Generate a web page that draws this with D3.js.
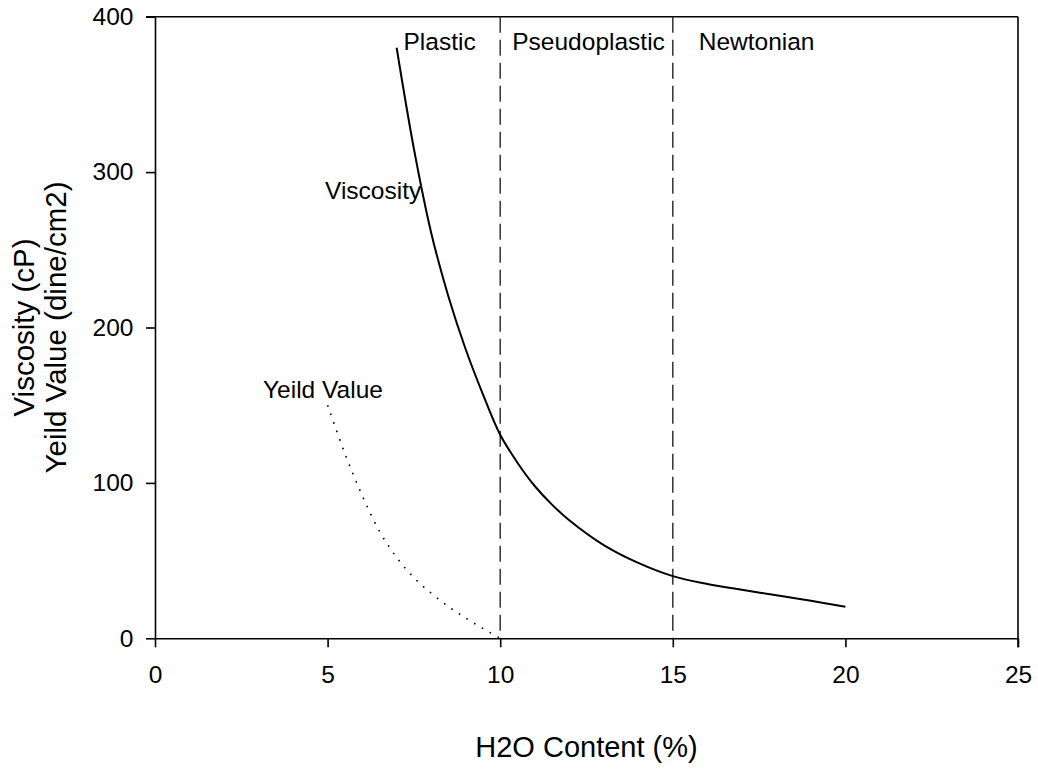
<!DOCTYPE html>
<html>
<head>
<meta charset="utf-8">
<script src="https://cdn.jsdelivr.net/npm/d3@7"></script>
<style>
  html, body { margin: 0; padding: 0; background: #fff; }
  svg text { font-family: "Liberation Sans", Arial, sans-serif; fill: #000; }
</style>
</head>
<body>
<svg id="chart" width="1038" height="770"></svg>
<script>
// Water content (%) and viscosity (cP)
const viscWater = [7, 7.5, 8, 8.5, 9, 9.5, 10, 10.5, 11, 11.5, 12, 13, 14, 15, 16, 17, 18, 19, 20];
const viscosity = [380, 315, 261, 220, 186, 157, 131, 113, 98, 86, 76, 60, 48.5, 40, 35, 31.2, 27.7, 24.1, 20.3];

// Water content (%) and yield value (dine/cm2)
const yieldWater = [5, 5.5, 6, 6.5, 7, 7.5, 8, 8.5, 9, 9.5, 10];
const yieldValue = [150, 119, 92, 69, 52, 39, 29, 20.5, 13, 6.3, 0];

// Flow regime boundaries and their labels
const boundaries = [10, 15];
const regimes = [
  { name: "Plastic", x: 7.2 },
  { name: "Pseudoplastic", x: 10.35 },
  { name: "Newtonian", x: 15.75 }
];

// Axis ticks
const xTicks = [0, 5, 10, 15, 20, 25];
const yTicks = [0, 100, 200, 300, 400];

const svg = d3.select("#chart");
const plotLeft = 155, plotRight = 1018, plotTop = 16.7, plotBottom = 638.3;
const labelSize = 24.5;

const x = d3.scaleLinear().domain([0, 25]).range([plotLeft, plotRight]);
const y = d3.scaleLinear().domain([0, 400]).range([plotBottom, plotTop]);

// Frame: top and right edges
svg.append("line")
  .attr("x1", plotLeft - 9).attr("x2", plotRight)
  .attr("y1", y(400)).attr("y2", y(400))
  .attr("stroke", "#000").attr("stroke-width", 1.6);
svg.append("line")
  .attr("x1", plotRight).attr("x2", plotRight)
  .attr("y1", plotTop).attr("y2", plotBottom + 9)
  .attr("stroke", "#000").attr("stroke-width", 1.6);

// Bottom axis
const gx = svg.append("g")
  .attr("transform", `translate(0,${plotBottom})`)
  .call(d3.axisBottom(x).tickValues(xTicks).tickSize(9).tickPadding(18.4).tickSizeOuter(0));
gx.select(".domain").attr("stroke-width", 1.6);
gx.selectAll(".tick line").attr("stroke-width", 1.6);
gx.selectAll(".tick text").attr("font-size", labelSize).attr("font-family", "Liberation Sans, Arial, sans-serif");

// Left axis
const gy = svg.append("g")
  .attr("transform", `translate(${plotLeft},0)`)
  .call(d3.axisLeft(y).tickValues(yTicks).tickSize(9).tickPadding(12.5).tickSizeOuter(0));
gy.select(".domain").attr("stroke-width", 1.6);
gy.selectAll(".tick line").attr("stroke-width", 1.6);
gy.selectAll(".tick text").attr("font-size", labelSize).attr("font-family", "Liberation Sans, Arial, sans-serif");

// Regime boundaries
svg.selectAll(".boundary")
  .data(boundaries)
  .join("line")
  .attr("class", "boundary")
  .attr("x1", d => x(d)).attr("x2", d => x(d))
  .attr("y1", y(400)).attr("y2", y(0))
  .attr("stroke", "#333")
  .attr("stroke-width", 1.5)
  .attr("stroke-dasharray", "16,7");

// Curves
const line = d3.line()
  .x(d => x(d[0]))
  .y(d => y(d[1]))
  .curve(d3.curveCatmullRom.alpha(0.5));

svg.append("path")
  .datum(d3.zip(viscWater, viscosity))
  .attr("d", line)
  .attr("fill", "none")
  .attr("stroke", "#000")
  .attr("stroke-width", 2);

svg.append("path")
  .datum(d3.zip(yieldWater, yieldValue))
  .attr("d", line)
  .attr("fill", "none")
  .attr("stroke", "#000")
  .attr("stroke-width", 1.6)
  .attr("stroke-dasharray", "1.6,7.4");

// Regime labels
svg.selectAll(".regime")
  .data(regimes)
  .join("text")
  .attr("class", "regime")
  .attr("x", d => x(d.x))
  .attr("y", 50)
  .attr("font-size", labelSize)
  .text(d => d.name);

// Curve labels
svg.append("text")
  .attr("x", 325).attr("y", 199)
  .attr("font-size", labelSize)
  .text("Viscosity");
svg.append("text")
  .attr("x", 263).attr("y", 398)
  .attr("font-size", labelSize)
  .text("Yeild Value");

// Axis titles
svg.append("text")
  .attr("x", (plotLeft + plotRight) / 2).attr("y", 757)
  .attr("text-anchor", "middle")
  .attr("font-size", 29)
  .text("H2O Content (%)");

const yTitle = svg.append("text")
  .attr("transform", `translate(0,${(plotTop + plotBottom) / 2}) rotate(-90)`)
  .attr("text-anchor", "middle")
  .attr("font-size", 29.5);
yTitle.append("tspan").attr("x", 0).attr("y", 34).text("Viscosity (cP)");
yTitle.append("tspan").attr("x", 0).attr("y", 66).text("Yeild Value (dine/cm2)");
</script>
</body>
</html>
